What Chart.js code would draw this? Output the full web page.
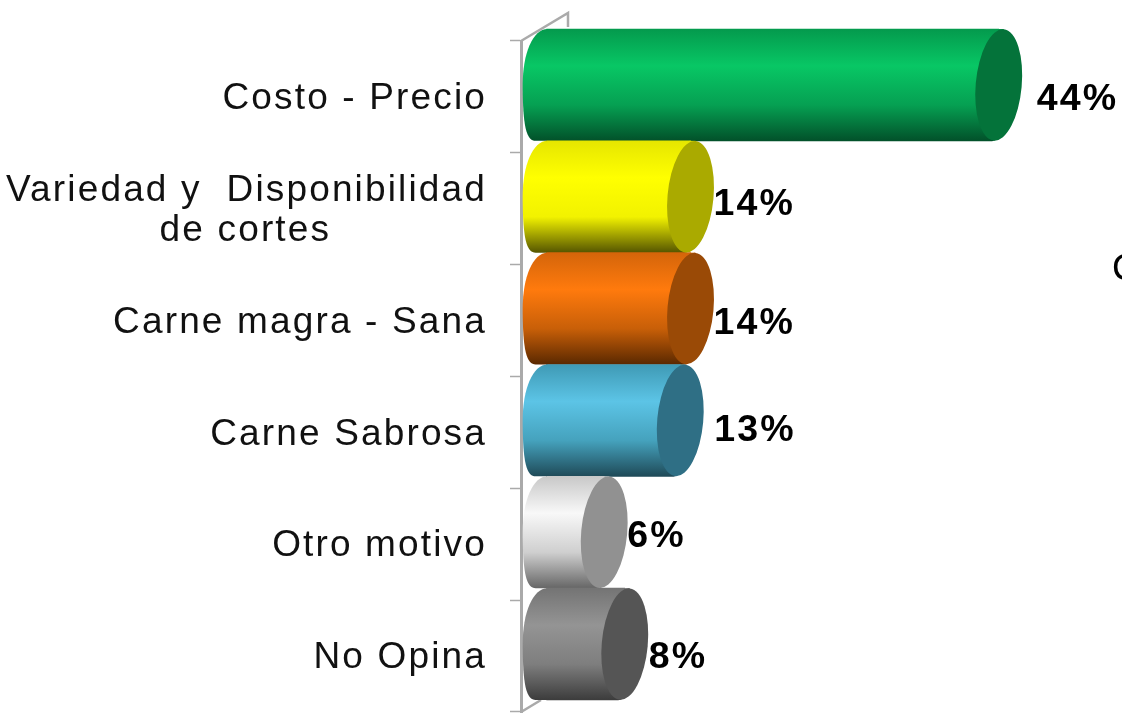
<!DOCTYPE html>
<html>
<head>
<meta charset="utf-8">
<title>Motivos</title>
<script src="https://cdn.jsdelivr.net/npm/chart.js@4"></script>
<style>
	html, body { margin: 0; padding: 0; background: #fff; overflow: hidden; }
	canvas { display: block; }
</style>
</head>
<body>
<canvas id="chartjs-canvas" width="1122" height="713"></canvas>
<script>
// trailing spaces keep "de cortes" centred under the first line
const categories = ['Costo - Precio', ['Variedad y  Disponibilidad', 'de cortes           \u2009\u2009'], 'Carne magra - Sana', 'Carne Sabrosa', 'Otro motivo', 'No Opina'];
// the labels show them rounded
const values = [44, 14, 14, 13, 5.6, 7.6];

// top, highlight, shoulder, bottom
const gradientStops = [
	['#049a4d', '#08c765', '#06a052', '#02512a'],
	['#e6e600', '#ffff00', '#f2f200', '#555500'],
	['#d4650a', '#ff7a0d', '#c85f08', '#5a2800'],
	['#3f9ab5', '#5cc4e6', '#45a2bd', '#1f4a58'],
	['#c8c8c8', '#f8f8f8', '#cfcfcf', '#666666'],
	['#747474', '#949494', '#7e7e7e', '#3c3c3c']
];
const capColors = ['#04733a', '#aaaa00', '#9a4a06', '#2f6f85', '#919191', '#555555'];

// the percent labels sit unevenly in the original
const labelDx = [15, 0, 0, 11, 0, 1];
const labelDy = [3, -4, 3, -2, -8, 2];

const capRadius = 23;
const capTilt = 0.09;
const capLean = 5;
const barLift = 12;
const axisColor = '#aaaaaa';

const barGradient = (ctx, index, y, height) => {
	const stops = gradientStops[index];
	const top = y - height / 2;
	const g = ctx.createLinearGradient(0, top, 0, top + height);
	g.addColorStop(0, stops[0]);
	g.addColorStop(0.33, stops[1]);
	g.addColorStop(0.68, stops[2]);
	g.addColorStop(1, stops[3]);
	return g;
};

const cylinderPlugin = {
	id: 'cylinders',
	beforeDraw(chart) {
		chart.ctx.letterSpacing = '2.15px';
	},
	beforeDatasetsDraw(chart) {
		const { ctx, chartArea } = chart;
		// back wall corner lines
		ctx.save();
		ctx.strokeStyle = axisColor;
		ctx.lineWidth = 2.5;
		ctx.beginPath();
		ctx.moveTo(chartArea.left, chartArea.top);
		ctx.lineTo(chartArea.left + 47, chartArea.top - 28);
		ctx.lineTo(chartArea.left + 47, chartArea.top - 14);
		ctx.moveTo(chartArea.left, chartArea.bottom);
		ctx.lineTo(chartArea.left + 20, chartArea.bottom - 12);
		ctx.stroke();
		ctx.restore();

		ctx.save();
		ctx.translate(0, -barLift);
		// rounded left ends, leaning a little like the caps
		chart.getDatasetMeta(0).data.forEach((bar, i) => {
			const h = bar.height;
			const top = bar.y - h / 2;
			const bottom = bar.y + h / 2;
			const edge = bar.base - capRadius - 1;
			ctx.fillStyle = barGradient(ctx, i, bar.y, h);
			ctx.beginPath();
			ctx.moveTo(bar.base + 1, top);
			ctx.bezierCurveTo(bar.base - 14, top, edge, top + h * 0.22, edge, bar.y);
			ctx.bezierCurveTo(edge, bottom - h * 0.12, edge + 4, bottom, edge + 13, bottom);
			ctx.lineTo(bar.base + 1, bottom);
			ctx.closePath();
			ctx.fill();
		});
	},
	afterDatasetsDraw(chart) {
		const { ctx } = chart;
		chart.getDatasetMeta(0).data.forEach((bar, i) => {
			// body runs on to the leaning top of the cap
			ctx.fillStyle = barGradient(ctx, i, bar.y, bar.height);
			ctx.fillRect(bar.x - 1, bar.y - bar.height / 2, capLean + 1, bar.height / 2);
			ctx.fillStyle = capColors[i];
			ctx.beginPath();
			ctx.ellipse(bar.x, bar.y, capRadius, bar.height / 2, capTilt, 0, Math.PI * 2);
			ctx.fill();
		});
		ctx.restore();

		ctx.save();
		ctx.fillStyle = '#000';
		ctx.font = 'bold 37.5px "Liberation Sans"';
		ctx.textAlign = 'left';
		ctx.textBaseline = 'middle';
		chart.getDatasetMeta(0).data.forEach((bar, i) => {
			const text = Math.round(values[i]) + '%';
			ctx.fillText(text, bar.x + capRadius + labelDx[i], bar.y + labelDy[i]);
		});
		// cut off text at the right edge of the slide
		ctx.font = '37px "Liberation Sans"';
		ctx.fillText('C', 1112, 270);
		ctx.restore();
	}
};

new Chart(document.getElementById('chartjs-canvas'), {
	type: 'bar',
	data: {
		labels: categories,
		datasets: [{
			data: values,
			barPercentage: 1,
			categoryPercentage: 1,
			clip: false,
			borderRadius: { topRight: 0, bottomRight: 7, topLeft: 0, bottomLeft: 0 },
			backgroundColor: (c) => {
				if (!c.chart.chartArea || c.dataIndex === undefined) return capColors[0];
				const scale = c.chart.scales.y;
				const band = scale.getPixelForTick(1) - scale.getPixelForTick(0);
				return barGradient(c.chart.ctx, c.dataIndex, scale.getPixelForTick(c.dataIndex), band);
			}
		}]
	},
	options: {
		indexAxis: 'y',
		responsive: false,
		animation: false,
		layout: { padding: { top: 41, bottom: 1, left: 0, right: 0 } },
		plugins: {
			legend: { display: false },
			tooltip: { enabled: false }
		},
		scales: {
			x: {
				display: false,
				min: -2.5,
				max: 56
			},
			y: {
				afterFit: (scale) => {
					scale.width = 521;
					scale.paddingTop = 0;
					scale.paddingBottom = 0;
				},
				border: { color: axisColor, width: 3 },
				grid: {
					drawOnChartArea: false,
					tickLength: 11,
					tickColor: axisColor,
					tickWidth: 1.5
				},
				ticks: {
					autoSkip: false,
					minRotation: 0,
					maxRotation: 0,
					padding: 23,
					labelOffset: 2,
					color: '#111',
					font: { family: '"Liberation Sans"', size: 37, lineHeight: 1.08 }
				}
			}
		}
	},
	plugins: [cylinderPlugin]
});
</script>
</body>
</html>
